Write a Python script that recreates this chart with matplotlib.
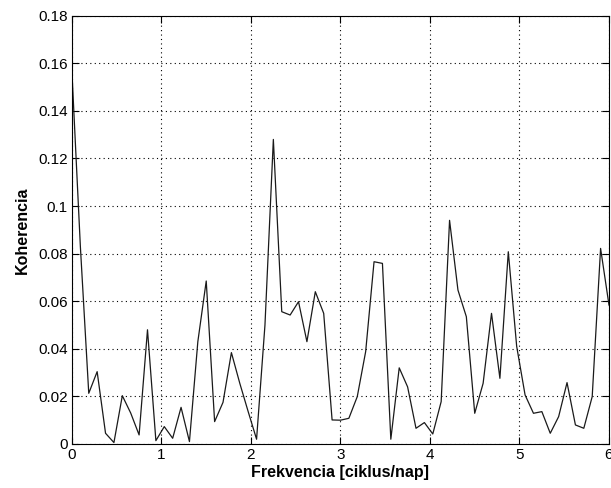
import matplotlib
matplotlib.use("Agg")
import matplotlib.pyplot as plt
import numpy as np

# frequency step (ciklus/nap)
freq_step = 0.09375
coherence = [0.156, 0.083, 0.0213, 0.0304, 0.0045, 0.0006, 0.0203, 0.013, 0.0038, 0.048,
             0.0014, 0.0073, 0.0024, 0.0154, 0.001, 0.043, 0.0685, 0.0094, 0.0175, 0.0384,
             0.0255, 0.0136, 0.002, 0.05, 0.128, 0.0556, 0.0542, 0.0598, 0.043, 0.064,
             0.0549, 0.0101, 0.0100, 0.0108, 0.0199, 0.0388, 0.0766, 0.0759, 0.002, 0.032,
             0.024, 0.0066, 0.009, 0.0042, 0.0178, 0.094, 0.0647, 0.0535, 0.0129, 0.0255,
             0.0549, 0.0276, 0.0808, 0.041, 0.0206, 0.0129, 0.0136, 0.0045, 0.0115, 0.0258,
             0.008, 0.0066, 0.0199, 0.0822, 0.0584]
frequency = [i * freq_step for i in range(len(coherence))]

xticks = [0, 1, 2, 3, 4, 5, 6]
xticklabels = ["0", "1", "2", "3", "4", "5", "6"]
yticks = [0, 0.02, 0.04, 0.06, 0.08, 0.1, 0.12, 0.14, 0.16, 0.18]
yticklabels = ["0", "0.02", "0.04", "0.06", "0.08", "0.1", "0.12", "0.14", "0.16", "0.18"]

plt.rcParams['font.family'] = ['Liberation Sans', 'DejaVu Sans']

fig = plt.figure(figsize=(6.11, 4.88), dpi=100)
ax = fig.add_axes([0.1178, 0.0902, 0.8789, 0.8776])
ax.plot(frequency, coherence, color='#1a1a1a', lw=0.9)

ax.set_xlim(0, 6)
ax.set_ylim(0, 0.18)
ax.set_xticks(xticks)
ax.set_xticklabels(xticklabels)
ax.set_yticks(yticks)
ax.set_yticklabels(yticklabels)
ax.grid(True, color='black', linestyle=(0, (1, 3)), linewidth=0.8)
ax.tick_params(direction='in', length=5, width=0.8, top=True, right=True,
               labelsize=11, colors='black', pad=3)
for s in ax.spines.values():
    s.set_linewidth(0.8)
    s.set_color('black')

ax.set_xlabel('Frekvencia [ciklus/nap]', fontsize=11.5, fontweight='bold', labelpad=2)
ax.set_ylabel('Koherencia', fontsize=11.5, fontweight='bold', labelpad=6)

fig.savefig('out.png', dpi=100)
